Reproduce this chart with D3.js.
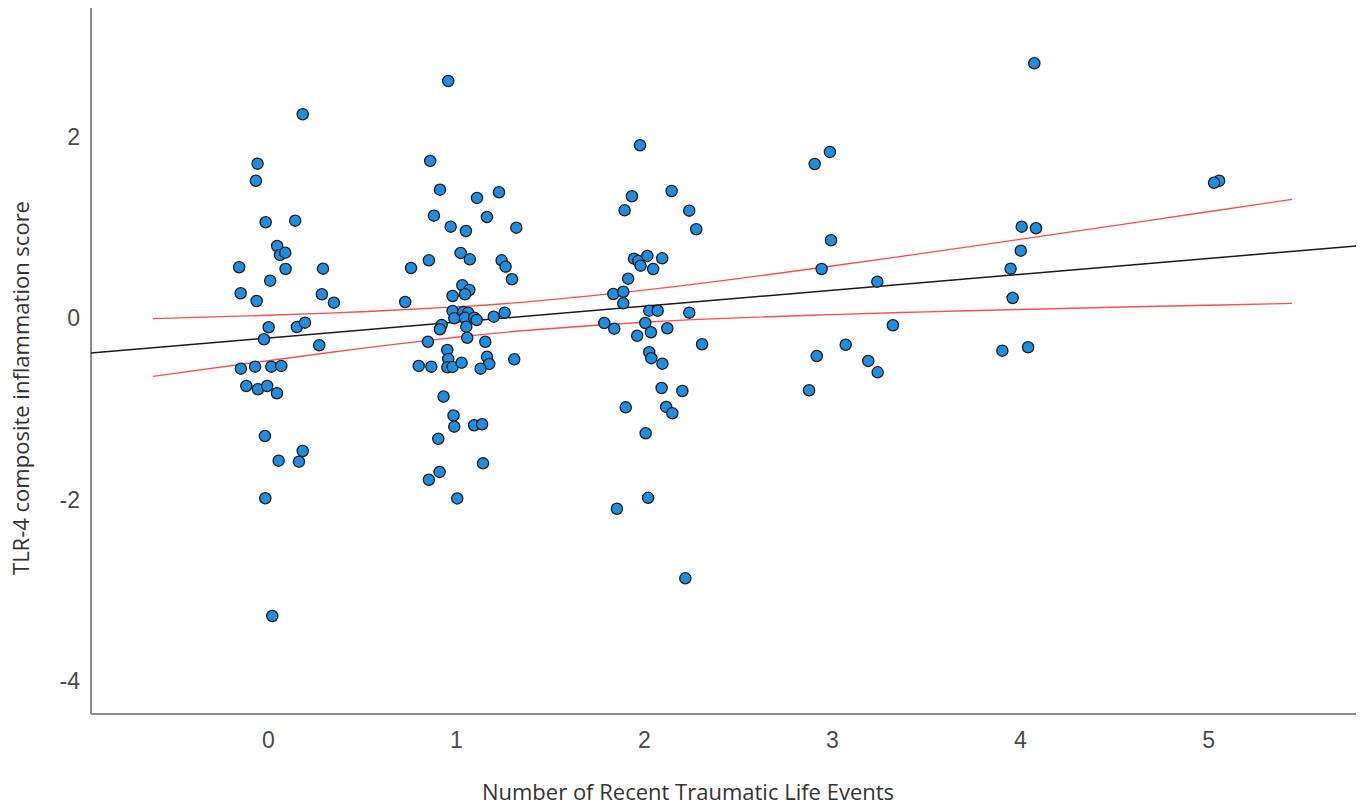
<!DOCTYPE html>
<html>
<head>
<meta charset="utf-8">
<script src="https://cdn.jsdelivr.net/npm/d3@7"></script>
<style>
  html, body { margin: 0; padding: 0; background: #fff; }
  svg { display: block; }
  .tick-label { font-family: "Liberation Sans", Arial, sans-serif; font-size: 23px; fill: #4a4a4a; }
  .axis-title { font-family: "Open Sans", "Liberation Sans", sans-serif; font-size: 22px; fill: #333; }
</style>
</head>
<body>
<div class="chart-wrapper"></div>
<script>
// jittered event count (x) and inflammation score (y)
const eventCounts = [
  0.185, -0.055, -0.064, -0.012, 0.145, 0.049, 0.064, 0.092, -0.153, 0.094, 0.293, 0.012,
  -0.145, -0.060, 0.287, 0.351, 0.004, -0.021, 0.154, 0.197, 0.273, -0.144, -0.068, 0.018,
  0.071, -0.115, -0.053, -0.004, 0.048, -0.016, 0.185, 0.057, 0.165, -0.014, 0.023,
  0.959, 0.863, 0.915, 1.112, 1.229, 0.883, 0.972, 1.053, 1.165, 1.321, 0.761, 0.856,
  1.025, 1.074, 1.243, 1.264, 1.298, 0.730, 0.982, 1.034, 1.071, 1.048, 0.982, 0.991,
  1.039, 1.065, 1.048, 1.097, 1.110, 1.201, 1.259, 0.924, 0.915, 1.055, 1.060, 0.851,
  1.156, 0.954, 0.959, 0.802, 0.869, 0.954, 0.982, 1.030, 1.165, 1.177, 1.131, 1.310,
  0.934, 0.987, 0.991, 1.097, 1.139, 0.906, 1.144, 0.913, 0.856, 1.007,
  1.979, 1.936, 1.897, 2.147, 2.241, 2.278, 1.947, 1.970, 2.018, 2.097, 1.982, 2.049,
  1.916, 1.837, 1.890, 1.890, 2.028, 2.073, 2.241, 1.789, 1.842, 2.007, 2.037, 2.124,
  1.964, 2.309, 2.028, 2.039, 2.098, 2.094, 2.204, 1.903, 2.118, 2.151, 2.009, 2.022,
  1.856, 2.220,
  2.989, 2.908, 2.995, 2.945, 3.241, 3.324, 3.073, 2.919, 3.193, 3.243, 2.878,
  4.076, 4.009, 4.085, 4.004, 3.950, 3.961, 3.906, 4.043,
  5.059, 5.032
];
const scores = [
  2.250, 1.706, 1.518, 1.060, 1.078, 0.799, 0.700, 0.725, 0.564, 0.545, 0.549, 0.417,
  0.278, 0.193, 0.267, 0.174, -0.097, -0.229, -0.094, -0.046, -0.295, -0.553, -0.531, -0.531,
  -0.523, -0.744, -0.780, -0.744, -0.824, -1.295, -1.460, -1.567, -1.578, -1.981, -3.278,
  2.617, 1.736, 1.419, 1.328, 1.391, 1.133, 1.012, 0.964, 1.118, 1.001, 0.556, 0.641,
  0.722, 0.652, 0.641, 0.571, 0.432, 0.182, 0.248, 0.366, 0.314, 0.267, 0.083, 0.002,
  0.072, 0.064, 0.009, 0.009, -0.017, 0.020, 0.064, -0.072, -0.119, -0.090, -0.212, -0.256,
  -0.256, -0.347, -0.446, -0.523, -0.531, -0.538, -0.534, -0.487, -0.421, -0.501, -0.553, -0.450,
  -0.860, -1.069, -1.192, -1.176, -1.165, -1.326, -1.596, -1.691, -1.777, -1.983,
  1.909, 1.347, 1.192, 1.405, 1.188, 0.983, 0.659, 0.634, 0.689, 0.663, 0.582, 0.545,
  0.439, 0.270, 0.295, 0.167, 0.086, 0.086, 0.064, -0.050, -0.112, -0.050, -0.152, -0.108,
  -0.190, -0.284, -0.371, -0.437, -0.498, -0.766, -0.799, -0.979, -0.974, -1.044, -1.265, -1.976,
  -2.096, -2.863,
  1.835, 1.702, 0.862, 0.545, 0.406, -0.075, -0.289, -0.413, -0.468, -0.593, -0.791,
  2.812, 1.012, 0.994, 0.747, 0.549, 0.226, -0.355, -0.317,
  1.518, 1.496
];

// fit line: intercept, slope
const fitCoef = [-0.215, 0.1752];

// 95% CI of the mean, read at these x positions
const ciX     = [-0.612, 0, 0.5, 1, 1.42, 2, 2.5, 3, 3.5, 4, 4.5, 5, 5.447];
const ciUpper = [-0.002, 0.035, 0.074, 0.128, 0.191, 0.312, 0.439, 0.578, 0.723, 0.872, 1.023, 1.176, 1.312];
const ciLower = [-0.638, -0.465, -0.329, -0.207, -0.124, -0.041, 0.007, 0.043, 0.073, 0.099, 0.124, 0.146, 0.166];

const xTicks = [0, 1, 2, 3, 4, 5];
const yTicks = [2, 0, -2, -4];

const xTitle = 'Number of Recent Traumatic Life Events';
const yTitle = 'TLR-4 composite inflammation score';

const W = 1361, H = 808;
const plot = { left: 91, right: 1356, top: 8, bottom: 714 };

const svg = d3.select('.chart-wrapper')
  .append('svg')
  .attr('width', W)
  .attr('height', H);

const x = d3.scaleLinear().domain([-0.941, 5.787]).range([plot.left, plot.right]);
const y = d3.scaleLinear().domain([-4.358, 3.421]).range([plot.bottom, plot.top]);

// axes (plain hyphen for negatives, like the original)
const xAxis = d3.axisBottom(x).tickValues(xTicks).tickSize(0).tickPadding(18).tickFormat(d => String(d));
const yAxis = d3.axisLeft(y).tickValues(yTicks).tickSize(0).tickPadding(11).tickFormat(d => String(d));

const gx = svg.append('g')
  .attr('transform', 'translate(0,' + plot.bottom + ')')
  .call(xAxis);
gx.select('.domain').attr('stroke', '#8f8b87').attr('stroke-width', 2)
  .attr('d', 'M' + plot.left + ',0H' + plot.right);
gx.selectAll('text').attr('class', 'tick-label').attr('dy', '0.71em');

const gy = svg.append('g')
  .attr('transform', 'translate(' + plot.left + ',0)')
  .call(yAxis);
gy.select('.domain').attr('stroke', '#8f8b87').attr('stroke-width', 2)
  .attr('d', 'M0,' + plot.top + 'V' + plot.bottom);
gy.selectAll('text').attr('class', 'tick-label');

// lines
const line = d3.line().x(d => x(d[0])).y(d => y(d[1]));
const curve = d3.line().x(d => x(d[0])).y(d => y(d[1])).curve(d3.curveNatural);

const fitEnds = x.domain().map(v => [v, fitCoef[0] + fitCoef[1] * v]);

svg.append('path')
  .datum(ciX.map((v, i) => [v, ciUpper[i]]))
  .attr('d', curve)
  .attr('fill', 'none')
  .attr('stroke', '#ff4d4d')
  .attr('stroke-width', 1.4);

svg.append('path')
  .datum(ciX.map((v, i) => [v, ciLower[i]]))
  .attr('d', curve)
  .attr('fill', 'none')
  .attr('stroke', '#ff4d4d')
  .attr('stroke-width', 1.4);

svg.append('path')
  .datum(fitEnds)
  .attr('d', line)
  .attr('fill', 'none')
  .attr('stroke', '#1a1a1a')
  .attr('stroke-width', 1.5);

// points
svg.append('g')
  .selectAll('circle')
  .data(eventCounts.map((v, i) => [v, scores[i]]))
  .enter()
  .append('circle')
  .attr('cx', d => x(d[0]))
  .attr('cy', d => y(d[1]))
  .attr('r', 5.6)
  .attr('fill', '#1f8ee0')
  .attr('stroke', '#1c1c1c')
  .attr('stroke-width', 1.3);

// titles
svg.append('text')
  .attr('class', 'axis-title')
  .attr('x', 688)
  .attr('y', 800)
  .attr('text-anchor', 'middle')
  .text(xTitle);

svg.append('text')
  .attr('class', 'axis-title')
  .attr('transform', 'translate(29,388) rotate(-90)')
  .attr('text-anchor', 'middle')
  .text(yTitle);
</script>
</body>
</html>
